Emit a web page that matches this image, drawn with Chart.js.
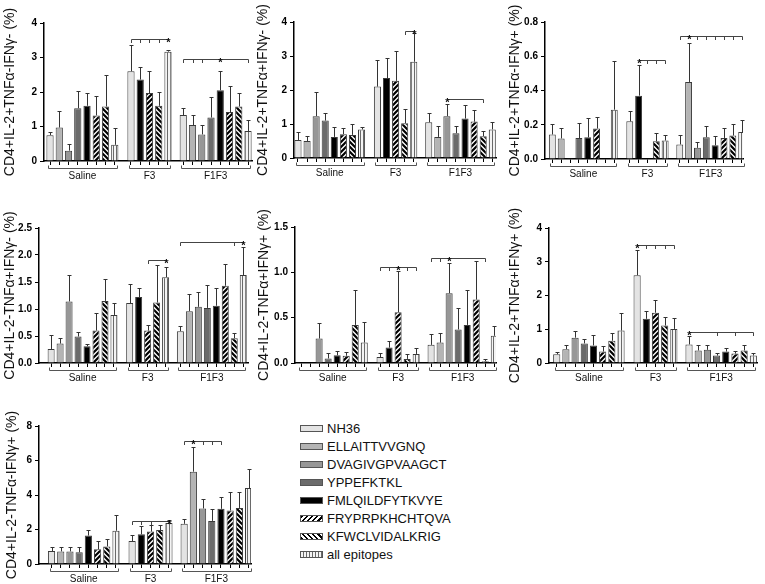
<!DOCTYPE html>
<html><head><meta charset="utf-8">
<script src="https://cdn.jsdelivr.net/npm/chart.js@4.4.1/dist/chart.umd.min.js"></script>
<style>
html,body{margin:0;padding:0;background:#fff;width:765px;height:584px;overflow:hidden;position:relative;font-family:"Liberation Sans",Arial,sans-serif}
canvas{position:absolute}
#legend{position:absolute;left:300px;top:419px}
.li{height:18.1px;display:flex;align-items:center}
.sw{width:21px;height:5px;border:1px solid #555;margin-right:4px;flex:none}
.lt{font-size:13px;color:#111;white-space:nowrap}
</style></head><body>
<div id="legend"></div>
<script>
// ---------- categories ----------
const seriesNames = ['NH36','ELLAITTVVGNQ','DVAGIVGPVAAGCT','YPPEFKTKL','FMLQILDFYTKVYE','FRYPRPKHCHTQVA','KFWCLVIDALKRIG','all epitopes'];
const groupNames = ['Saline','F3','F1F3'];
const salineSeries = [0,1,2,3,4,5,6,7];
const f3Series = [0,4,5,6,7];
const f1f3Series = [0,1,2,3,4,5,6,7];

const yTitles = [
  'CD4+IL-2+TNFα-IFNγ- (%)',
  'CD4+IL-2+TNFα+IFNγ- (%)',
  'CD4+IL-2+TNFα-IFNγ+ (%)',
  'CD4+IL-2-TNFα+IFNγ- (%)',
  'CD4+IL-2-TNFα+IFNγ+ (%)',
  'CD4+IL-2+TNFα+IFNγ+ (%)',
  'CD4+IL-2-TNFα-IFNγ+ (%)'
];

// ---------- tick labels ----------
const p1Ticks = ['0','1','2','3','4'];
const p2Ticks = ['0','1','2','3','4'];
const p3Ticks = ['0.0','0.2','0.4','0.6','0.8'];
const p4Ticks = ['0.0','0.5','1.0','1.5','2.0','2.5'];
const p5Ticks = ['0.0','0.5','1.0','1.5'];
const p6Ticks = ['0','1','2','3','4'];
const p7Ticks = ['0','2','4','6','8'];

// ---------- values (Saline x8, F3 x5, F1F3 x8) ----------
const p1Mean = [0.75,0.97,0.30,1.53,1.60,1.32,1.58,0.47, 2.60,2.36,1.97,1.60,3.17, 1.33,1.04,0.77,1.26,2.05,1.42,1.58,0.87];
const p1Sd   = [0.10,0.48,0.20,0.50,0.38,0.55,0.92,0.48, 0.75,0.37,0.63,0.40,0.05, 0.20,0.30,0.26,0.59,0.57,0.76,0.38,0.31];
const p2Mean = [0.53,0.50,1.23,1.10,0.62,0.70,0.68,0.84, 2.10,2.35,2.27,1.02,2.83, 1.05,0.62,1.23,0.73,1.16,1.07,0.64,0.84];
const p2Sd   = [0.24,0.15,0.72,0.23,0.28,0.17,0.31,0.08, 0.77,0.58,0.88,0.43,0.85, 0.28,0.31,0.35,0.22,0.39,0.35,0.14,0.23];
const p3Mean = [0.143,0.120,0.005,0.122,0.127,0.178,0,0.288, 0.220,0.370,0,0.103,0.108, 0.085,0.450,0.065,0.127,0.080,0.123,0.137,0.157];
const p3Sd   = [0.062,0.060,0,0.088,0.113,0.067,0,0.282, 0.060,0.180,0,0.047,0.032, 0.055,0.230,0.033,0.063,0.055,0.060,0.068,0.068];
const p4Mean = [0.26,0.36,1.14,0.49,0.31,0.60,1.15,0.89, 1.11,1.22,0.60,1.12,1.59, 0.59,0.96,1.04,1.02,1.06,1.43,0.46,1.63];
const p4Sd   = [0.26,0.10,0.49,0.08,0.05,0.32,0.40,0.22, 0.36,0.16,0.11,0.69,0.19, 0.10,0.31,0.28,0.42,0.33,0.41,0.09,0.52];
const p5Mean = [0,0,0.27,0.05,0.085,0.08,0.42,0.225, 0.065,0.17,0.56,0.045,0.10, 0.20,0.225,0.77,0.37,0.42,0.70,0.02,0.30];
const p5Sd   = [0,0,0.17,0.06,0.05,0.045,0.38,0.225, 0.045,0.07,0.46,0.055,0.065, 0.12,0.105,0.33,0.24,0.39,0.43,0.02,0.11];
const p6Mean = [0.26,0.41,0.75,0.58,0.52,0.34,0.66,0.96, 2.60,1.31,1.49,1.11,1.01, 0.55,0.37,0.39,0.22,0.34,0.28,0.37,0.22];
const p6Sd   = [0.07,0.13,0.21,0.12,0.30,0.16,0.24,0.51, 0.75,0.22,0.39,0.26,0.32, 0.25,0.15,0.14,0.08,0.10,0.07,0.16,0.08];
const p7Mean = [0.75,0.73,0.73,0.68,1.65,0.85,1.02,1.93, 1.33,1.72,1.88,1.97,2.37, 2.33,5.35,3.22,2.50,3.20,3.10,3.25,4.40];
const p7Sd   = [0.25,0.27,0.27,0.29,0.35,0.48,0.43,0.90, 0.37,0.48,0.37,0.28,0.18, 0.27,1.45,0.56,0.68,0.68,1.08,0.93,1.10];

// significance brackets: g = group, y = level, t = ticked bars (index in group), s = starred bar
const p1Sig = [{g:1,y:3.55,t:[0,1,2,3],s:4},{g:2,y:2.97,t:[0,1,2,7],s:4}];
const p2Sig = [{g:1,y:3.75,t:[3],s:4},{g:2,y:1.74,t:[6],s:2}];
const p3Sig = [{g:1,y:0.58,t:[2,3,4],s:1},{g:2,y:0.72,t:[0,2,3,4,5,6,7],s:1}];
const p4Sig = [{g:1,y:1.90,t:[2],s:4},{g:2,y:2.24,t:[0,6],s:7}];
const p5Sig = [{g:1,y:1.06,t:[0,1,3,4],s:2},{g:2,y:1.16,t:[0,1,6],s:2}];
const p6Sig = [{g:1,y:3.50,t:[1,2,3,4],s:0},{g:2,y:0.93,t:[3,5,7],s:0}];
const p7Sig = [{g:1,y:2.48,t:[0,1,2],s:4},{g:2,y:7.13,t:[0,2,3,4],s:1}];

// ---------- layout / style ----------
const FONT = '"Liberation Sans", Arial, sans-serif';
Chart.defaults.font.family = FONT;
const groupSeries = [salineSeries, f3Series, f1f3Series];
const groupStart = [0, 8.75, 14.4];
const layouts = [
  {left:0,   axisX:44,  top:23,  zero:161, right:252, xMin:-0.65, xMax:21.83},
  {left:253, axisX:294, top:22,  zero:158, right:496, xMin:-0.44, xMax:21.81},
  {left:505, axisX:545, top:22,  zero:159, right:743, xMin:-0.83, xMax:21.55},
  {left:0,   axisX:39,  top:228, zero:363, right:248, xMin:-1.35, xMax:21.93},
  {left:254, axisX:295, top:227, zero:363, right:496, xMin:-0.67, xMax:21.59},
  {left:505, axisX:549, top:228, zero:363, right:757, xMin:-0.84, xMax:21.80},
  {left:2,   axisX:39,  top:426, zero:564, right:251, xMin:-1.36, xMax:21.66}
];
const panelMeans = [p1Mean,p2Mean,p3Mean,p4Mean,p5Mean,p6Mean,p7Mean];
const panelSds = [p1Sd,p2Sd,p3Sd,p4Sd,p5Sd,p6Sd,p7Sd];
const panelSig = [p1Sig,p2Sig,p3Sig,p4Sig,p5Sig,p6Sig,p7Sig];
const panelTicks = [p1Ticks,p2Ticks,p3Ticks,p4Ticks,p5Ticks,p6Ticks,p7Ticks];

function makePattern(kind){
  const c = document.createElement('canvas');
  let g;
  if (kind === 'vert') {
    c.width = 3; c.height = 2; g = c.getContext('2d');
    g.fillStyle = '#f4f4f4'; g.fillRect(0,0,3,2);
    g.fillStyle = '#6a6a6a'; g.fillRect(2,0,1,2);
  } else {
    const s = 5; c.width = s; c.height = s; g = c.getContext('2d');
    g.fillStyle = '#fff'; g.fillRect(0,0,s,s);
    g.strokeStyle = '#000'; g.lineWidth = 2.2; g.beginPath();
    if (kind === 'fwd') {
      g.moveTo(0,s); g.lineTo(s,0); g.moveTo(-1,1); g.lineTo(1,-1); g.moveTo(s-1,s+1); g.lineTo(s+1,s-1);
    } else {
      g.moveTo(0,0); g.lineTo(s,s); g.moveTo(-1,s-1); g.lineTo(1,s+1); g.moveTo(s-1,-1); g.lineTo(s+1,1);
    }
    g.stroke();
  }
  return g.createPattern(c,'repeat');
}
const seriesFill = ['#e3e3e3','#b4b4b4','#979797','#6b6b6b','#000000', makePattern('fwd'), makePattern('back'), makePattern('vert')];
const legendFill = ['#e3e3e3','#b4b4b4','#979797','#6b6b6b','#000000',
  'repeating-linear-gradient(135deg,#000 0 1.9px,#fff 1.9px 3.6px)',
  'repeating-linear-gradient(45deg,#000 0 1.9px,#fff 1.9px 3.6px)',
  'repeating-linear-gradient(90deg,#f4f4f4 0 2px,#6a6a6a 2px 3px)'];

// legend
const legendEl = document.getElementById('legend');
seriesNames.forEach((n,i)=>{
  const row = document.createElement('div'); row.className='li';
  const sw = document.createElement('div'); sw.className='sw'; sw.style.background = legendFill[i];
  const t = document.createElement('span'); t.className='lt'; t.textContent = n;
  row.appendChild(sw); row.appendChild(t); legendEl.appendChild(row);
});

function overlayPlugin(k, xs, means, sds, sig){
  return {
    id: 'overlay'+k,
    afterDatasetsDraw(chart){
      const ctx = chart.ctx, xS = chart.scales.x, yS = chart.scales.y;
      const px = v => Math.round(xS.getPixelForValue(v)) + 0.5;
      const line = (a,b,c,d)=>{ ctx.beginPath(); ctx.moveTo(a,b); ctx.lineTo(c,d); ctx.stroke(); };
      ctx.save();
      ctx.strokeStyle = '#333'; ctx.lineWidth = 1;
      // error bars
      const meta = chart.getDatasetMeta(0);
      for (let i=0;i<means.length;i++){
        if (!(sds[i] > 0)) continue;
        const x = Math.round(meta.data[i].x) + 0.5;
        const y0 = yS.getPixelForValue(means[i]);
        const y1 = Math.round(yS.getPixelForValue(means[i]+sds[i])) + 0.5;
        line(x,y0,x,y1); line(x-2,y1,x+2,y1);
      }
      // significance brackets
      ctx.strokeStyle = '#444';
      sig.forEach(b=>{
        const base = groupStart[b.g];
        const all = b.t.concat([b.s]);
        const lo = Math.min(...all), hi = Math.max(...all);
        const y = Math.round(yS.getPixelForValue(b.y)) + 0.5;
        line(px(base+lo), y, px(base+hi), y);
        b.t.forEach(t=>line(px(base+t), y, px(base+t), y+3.5));
        ctx.fillStyle = '#111';
        ctx.font = 'bold 11px ' + FONT;
        ctx.textAlign = 'center'; ctx.textBaseline = 'middle';
        ctx.fillText('*', px(base+b.s), y+3);
      });
      // group brackets under the axis
      ctx.strokeStyle = '#555';
      const yb = Math.round(yS.getPixelForValue(0)) + 7.5;
      groupSeries.forEach((g,gi)=>{
        const a = px(groupStart[gi]) - 2, e = px(groupStart[gi] + g.length - 1) + 2;
        ctx.beginPath(); ctx.moveTo(a,yb-3); ctx.lineTo(a,yb); ctx.lineTo(e,yb); ctx.lineTo(e,yb-3); ctx.stroke();
      });
      ctx.restore();
    }
  };
}

function buildPanel(k){
  const L = layouts[k];
  const means = panelMeans[k], sds = panelSds[k], sig = panelSig[k], ticks = panelTicks[k];
  const xs = [], fills = [];
  groupSeries.forEach((g,gi)=>g.forEach((s,j)=>{ xs.push(groupStart[gi]+j); fills.push(seriesFill[s]); }));
  const centers = groupSeries.map((g,gi)=>groupStart[gi] + (g.length-1)/2);
  const padTop = 22, padRight = 8, xH = 6, gH = 18;
  const W = L.right + padRight - L.left;
  const H = (L.zero + xH + gH) - (L.top - padTop);
  const cv = document.createElement('canvas');
  cv.width = W; cv.height = H;
  cv.style.left = L.left + 'px'; cv.style.top = (L.top - padTop) + 'px';
  cv.style.width = W + 'px'; cv.style.height = H + 'px';
  document.body.appendChild(cv);
  new Chart(cv, {
    type: 'bar',
    data: { datasets: [{
      data: xs.map((x,i)=>({x:x, y:means[i]})),
      backgroundColor: fills, borderColor: '#3a3a3a', borderWidth: 1,
      barPercentage: 0.78, categoryPercentage: 1, borderSkipped: 'bottom'
    }]},
    options: {
      responsive: false, animation: false,
      layout: { padding: { top: padTop, right: padRight, left: 0, bottom: 0 } },
      plugins: { legend: { display: false }, tooltip: { enabled: false } },
      scales: {
        x: {
          type: 'linear', position: 'bottom', min: L.xMin, max: L.xMax, offset: false, weight: 0, z: 1,
          afterBuildTicks: s => { s.ticks = xs.map(v=>({value:v})); },
          ticks: { display: false },
          grid: { display: true, drawOnChartArea: false, drawTicks: true, tickLength: 4, color: '#000', lineWidth: 1, offset: false },
          border: { display: true, color: '#000', width: 1.5 },
          afterFit: s => { s.height = xH; }
        },
        g: {
          type: 'linear', position: 'bottom', min: L.xMin, max: L.xMax, offset: false, weight: 1,
          afterBuildTicks: s => { s.ticks = centers.map(v=>({value:v})); },
          ticks: { autoSkip: false, maxRotation: 0, padding: 3, color: '#111', font: { size: 10 }, callback: (v,i)=>groupNames[i] },
          grid: { display: false, drawTicks: false },
          border: { display: false },
          afterFit: s => { s.height = gH; }
        },
        y: {
          type: 'linear', min: 0, max: parseFloat(ticks[ticks.length-1]),
          afterBuildTicks: s => { s.ticks = ticks.map(t=>({value:parseFloat(t)})); },
          ticks: { padding: 3, color: '#000', font: { size: 10, weight: 'bold' }, callback: (v,i)=>ticks[i] },
          grid: { drawOnChartArea: false, drawTicks: true, tickLength: 4, color: '#000', lineWidth: 1 },
          border: { display: true, color: '#000', width: 1.5 },
          title: { display: true, text: yTitles[k], color: '#111', font: { size: 14 }, padding: { top: 2, bottom: 0 } },
          afterFit: s => { s.width = L.axisX - L.left; }
        }
      }
    },
    plugins: [overlayPlugin(k, xs, means, sds, sig)]
  });
}
for (let k=0;k<7;k++) buildPanel(k);
</script>
</body></html>
